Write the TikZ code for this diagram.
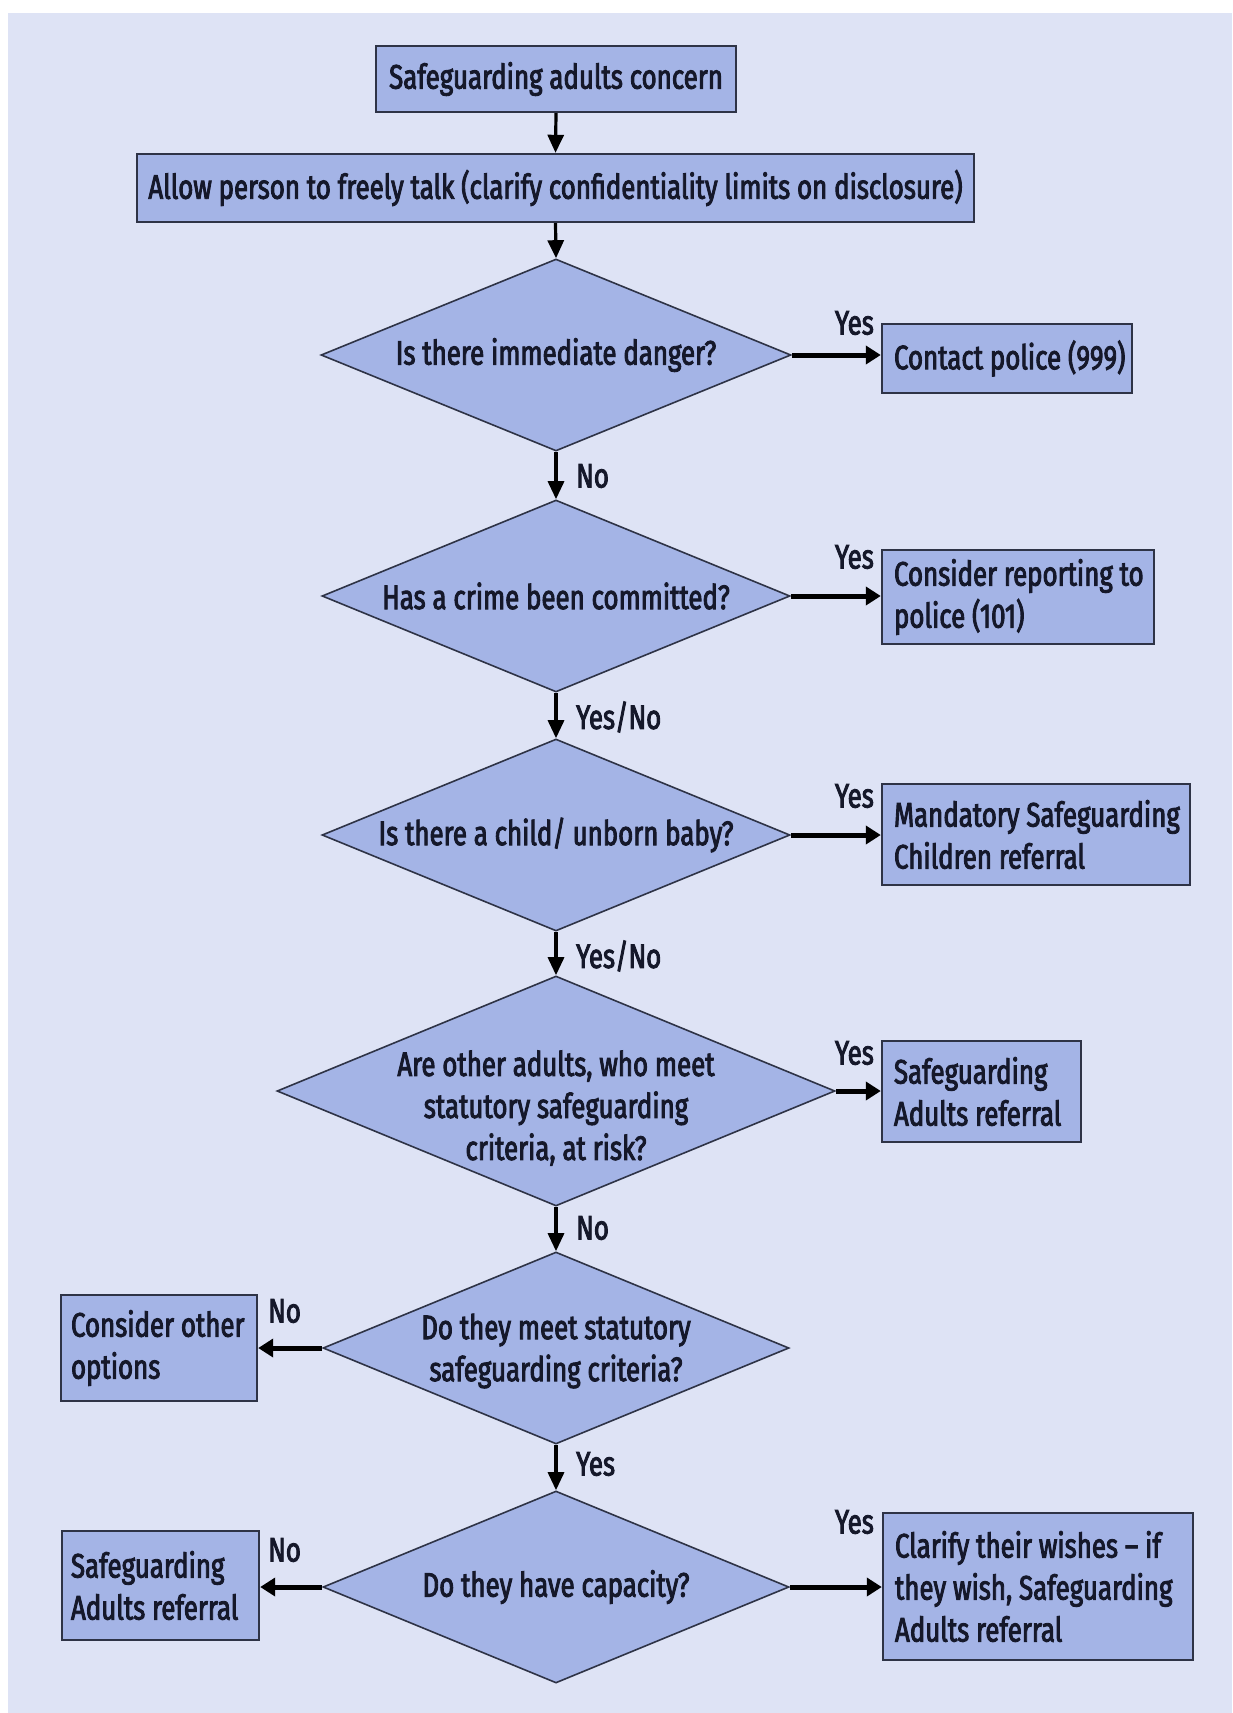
\documentclass[tikz,border=0pt]{standalone}
\usepackage{fontspec}
\setmainfont{Fira Sans}[FakeStretch=0.76,FakeBold=2.6]
\usetikzlibrary{shapes.geometric,arrows.meta}
\definecolor{bgc}{HTML}{DEE3F5}
\definecolor{fillc}{HTML}{A4B4E6}
\definecolor{edgec}{HTML}{2E3346}
\definecolor{txtc}{HTML}{15182A}
\tikzset{
  every node/.style={text=txtc,font=\fontsize{34}{42}\selectfont},
  fbox/.style={draw=edgec,line width=2.4pt,fill=fillc,rectangle,inner sep=0pt},
  btext/.style={align=left,inner sep=0pt,anchor=west},
  dia/.style={draw=edgec,line width=1.6pt,fill=fillc,diamond,inner sep=0pt},
  dtext/.style={align=center,inner sep=0pt},
  lab/.style={inner sep=0pt},
  arr/.style={-{Triangle[length=18pt,width=16pt]},line width=3.2pt,black},
  harr/.style={-{Triangle[length=15pt,width=18pt]},line width=5pt,black},
}
\begin{document}
\begin{tikzpicture}[x=1pt,y=-1pt]
\useasboundingbox (0,0) rectangle (1232,1713);
\fill[white] (0,0) rectangle (1232,1713);
\fill[bgc] (8,13) rectangle (1232,1713);
% boxes
\node[fbox,minimum width=360pt,minimum height=66pt] (b1) at (556,79) {Safeguarding adults concern};
\node[fbox,minimum width=837pt,minimum height=68pt] (b2) at (555.5,188) {Allow person to freely talk (clarify confidentiality limits on disclosure)};
\node[fbox,minimum width=250pt,minimum height=69pt] (cp) at (1007,358.5) {};
\node[btext] (cpt) at ([xshift=13pt]cp.west) {Contact police (999)};
\node[fbox,minimum width=272pt,minimum height=94pt] (cr) at (1018,597) {};
\node[btext] (crt) at ([xshift=13pt]cr.west) {Consider reporting to\\police (101)};
\node[fbox,minimum width=308pt,minimum height=101pt] (mc) at (1036,834.5) {};
\node[btext] (mct) at ([xshift=13pt]mc.west) {Mandatory Safeguarding\\Children referral};
\node[fbox,minimum width=199pt,minimum height=101pt] (sa1) at (981.5,1091.5) {};
\node[btext] (sa1t) at ([xshift=13pt]sa1.west) {Safeguarding\\Adults referral};
\node[fbox,minimum width=196pt,minimum height=106pt] (co) at (159,1348) {};
\node[btext] (cot) at ([xshift=11pt]co.west) {Consider other\\options};
\node[fbox,minimum width=197pt,minimum height=109pt] (sa2) at (160.5,1585.5) {};
\node[btext] (sa2t) at ([xshift=10pt]sa2.west) {Safeguarding\\Adults referral};
\node[fbox,minimum width=310pt,minimum height=147pt] (cw) at (1038,1586.5) {};
\node[btext] (cwt) at ([xshift=13pt]cw.west) {Clarify their wishes -- if\\they wish, Safeguarding\\Adults referral};
% diamonds
\node[dia,minimum width=470pt,minimum height=192pt] (d1) at (556,355) {};
\node[dtext] (t1) at (d1) {Is there immediate danger?};
\node[dia,minimum width=468pt,minimum height=192pt] (d2) at (556,596) {};
\node[dtext] (t2) at (d2) {Has a crime been committed?};
\node[dia,minimum width=468pt,minimum height=192pt] (d3) at (556,835) {};
\node[dtext] (t3) at (d3) {Is there a child/ unborn baby?};
\node[dia,minimum width=558pt,minimum height=230pt] (d4) at (556,1091) {};
\node[dtext] (t4) at ([yshift=-17pt]d4.center) {Are other adults, who meet\\statutory safeguarding\\criteria, at risk?};
\node[dia,minimum width=466pt,minimum height=192pt] (d5) at (556,1348) {};
\node[dtext] (t5) at ([yshift=-3pt]d5.center) {Do they meet statutory\\safeguarding criteria?};
\node[dia,minimum width=466pt,minimum height=192pt] (d6) at (556,1587) {};
\node[dtext] (t6) at (d6) {Do they have capacity?};
% vertical arrows
\draw[arr] (b1.south) -- (b2.north);
\draw[arr] (b2.south) -- (d1.north);
\draw[arr] (d1.south) -- (d2.north);
\draw[arr] (d2.south) -- (d3.north);
\draw[arr] (d3.south) -- (d4.north);
\draw[arr] (d4.south) -- (d5.north);
\draw[arr] (d5.south) -- (d6.north);
% horizontal arrows
\draw[harr] (d1.east) -- (d1.east -| cp.west);
\draw[harr] (d2.east) -- (d2.east -| cr.west);
\draw[harr] (d3.east) -- (d3.east -| mc.west);
\draw[harr] (d4.east) -- (d4.east -| sa1.west);
\draw[harr] (d5.west) -- (d5.west -| co.east);
\draw[harr] (d6.west) -- (d6.west -| sa2.east);
\draw[harr] (d6.east) -- (d6.east -| cw.west);
% labels
\node[lab,anchor=east] (y1) at (874,323) {Yes};
\node[lab,anchor=west] (n1) at (576,476) {No};
\node[lab,anchor=east] (y2) at (874,557) {Yes};
\node[lab,anchor=west] (yn1) at (576,717) {Yes/No};
\node[lab,anchor=east] (y3) at (874,796) {Yes};
\node[lab,anchor=west] (yn2) at (576,956) {Yes/No};
\node[lab,anchor=east] (y4) at (874,1053) {Yes};
\node[lab,anchor=west] (n2) at (576,1228) {No};
\node[lab,anchor=west] (n3) at (268,1311) {No};
\node[lab,anchor=west] (y5) at (576,1464) {Yes};
\node[lab,anchor=west] (n4) at (268,1550) {No};
\node[lab,anchor=east] (y6) at (874,1522) {Yes};
\end{tikzpicture}
\end{document}
